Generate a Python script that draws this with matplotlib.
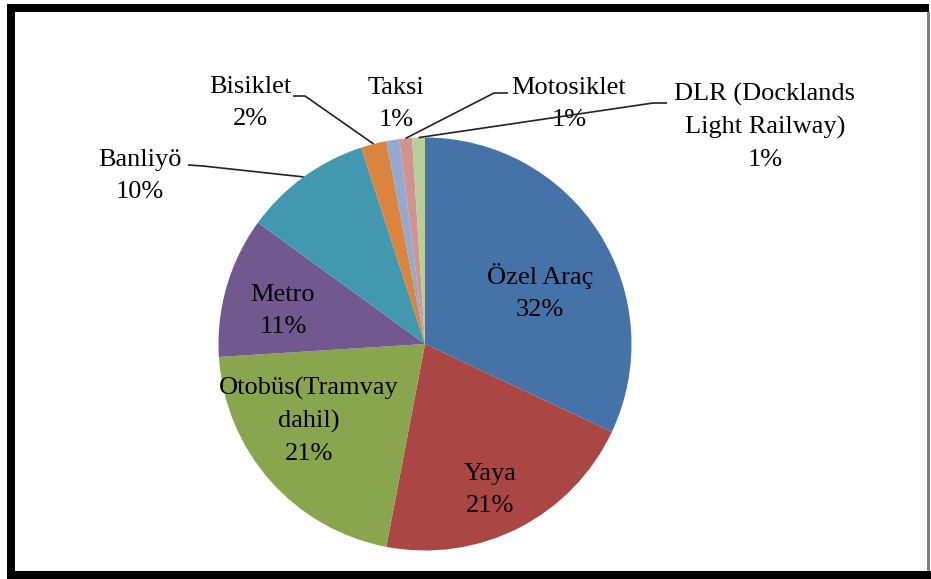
import numpy as np
import matplotlib
matplotlib.use('Agg')
import matplotlib.pyplot as plt
from matplotlib.patches import Rectangle

# modal split shares (%)
modes = ['Özel Araç', 'Yaya', 'Otobüs(Tramvay\ndahil)', 'Metro', 'Banliyö',
         'Bisiklet', 'Taksi', 'Motosiklet', 'DLR (Docklands\nLight Railway)']
shares = [32, 21, 21, 11, 10, 2, 1, 1, 1]
colors = ['#4572A7', '#AA4643', '#89A54E', '#71588F', '#4198AF',
          '#DB843D', '#93A9CF', '#D19392', '#B9CD96']

W, H = 931, 579

# label centres in pixels (x, y from top)
label_pos = [(540, 292), (490, 490), (309, 421), (283, 311), (140, 176),
             (250, 103), (396, 104), (569, 104), (765, 127)]
# leader lines: (label end, elbow) in pixels, None = no leader
leaders = [None, None, None, None, ((188, 165), (203, 166)),
           ((293, 96), (305, 96)), None, ((508, 93), (494, 93)),
           ((667, 103), (653, 103))]

fig = plt.figure(figsize=(W / 100, H / 100), dpi=100)
ax = fig.add_axes([0, 0, 1, 1])

cx, cy, r = 425, 344, 206.5
wedges, _ = ax.pie(shares, colors=colors, startangle=90, counterclock=False,
                   center=(cx, H - cy), radius=r,
                   wedgeprops=dict(linewidth=0))
ax.set_xlim(0, W)
ax.set_ylim(0, H)
ax.axis('off')

for i, (name, val) in enumerate(zip(modes, shares)):
    x, y = label_pos[i]
    ax.text(x, H - y, f'{name}\n{val}%', ha='center', va='center',
            multialignment='center', fontsize=19, linespacing=1.6,
            family='Liberation Serif', color='black', zorder=3)
    if leaders[i] is not None:
        w = wedges[i]
        mid = np.deg2rad((w.theta1 + w.theta2) / 2)
        ex = cx + r * np.cos(mid)
        ey = (H - cy) + r * np.sin(mid)
        (x0, y0), (x1, y1) = leaders[i]
        ax.plot([x0, x1, ex], [H - y0, H - y1, ey], color='#222222',
                lw=1.2, zorder=4, solid_capstyle='butt')

# outer frame
frame = [((7, 4), 8, 568, 'black'), ((7, 4), 922, 8, 'black'),
         ((7, 571), 924, 8, 'black'), ((927, 12), 3, 559, '#808080')]
for (x, y), w, h, c in frame:
    ax.add_patch(Rectangle((x, H - y - h), w, h, color=c, lw=0,
                           clip_on=False, zorder=5))

fig.savefig('out.png', dpi=100)
